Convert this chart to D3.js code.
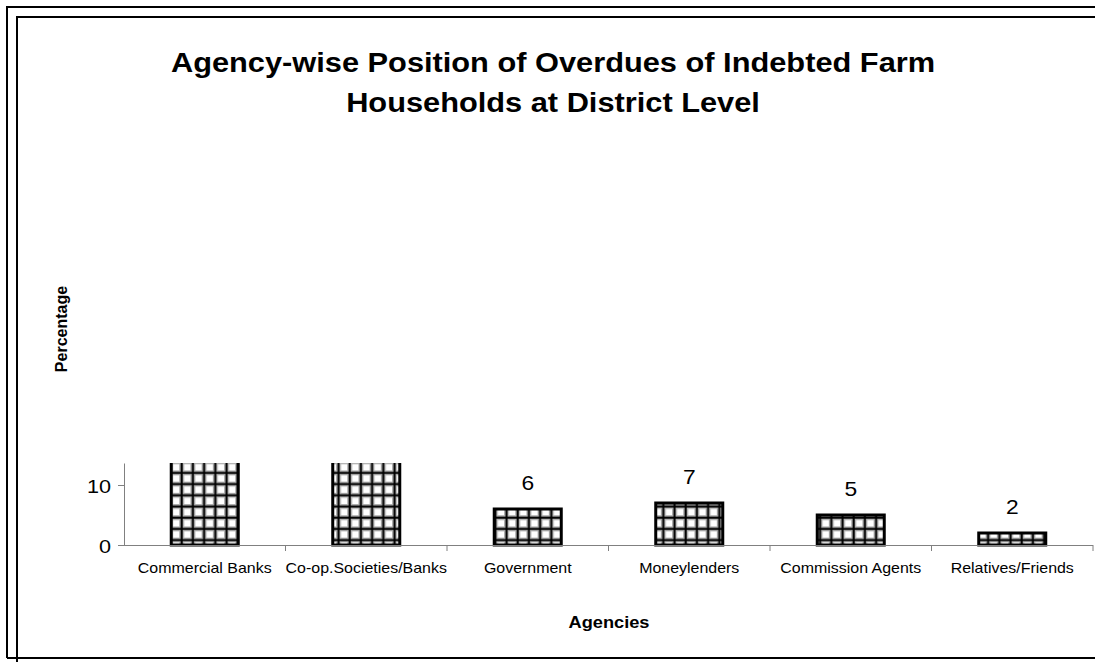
<!DOCTYPE html>
<html><head><meta charset="utf-8">
<script src="https://cdn.jsdelivr.net/npm/d3@7"></script>
<style>body{margin:0;background:#fff}svg{display:block}</style>
</head><body>
<svg id="c" width="1095" height="662"></svg>
<script>
const categories = ["Commercial Banks","Co-op.Societies/Banks","Government","Moneylenders","Commission Agents","Relatives/Friends"];
const values = [40, 38, 6, 7, 5, 2];
const yTicks = [0, 10];
const titleLines = ["Agency-wise Position of Overdues of Indebted Farm","Households at District Level"];

const svg = d3.select("#c");
const font = "Arial, 'Liberation Sans', sans-serif";
const SX = 1.14;
function stretch(sel){
  sel.each(function(){
    const t = d3.select(this);
    const x = +t.attr("x")||0, y = +t.attr("y")||0;
    t.attr("x",0).attr("y",0).attr("transform",`translate(${x},${y}) scale(${SX},1)`);
  });
}

// frames
svg.append("path").attr("d","M7,658 L7,7 L1095,7").attr("fill","none").attr("stroke","#000").attr("stroke-width",2);
svg.append("path").attr("d","M17,662 L17,17 L1095,17").attr("fill","none").attr("stroke","#000").attr("stroke-width",2);
svg.append("line").attr("x1",7).attr("x2",1095).attr("y1",658).attr("y2",658).attr("stroke","#000").attr("stroke-width",2);

// pattern
const defs = svg.append("defs");
const P = 11.2;
const pat = defs.append("pattern").attr("id","grid").attr("patternUnits","userSpaceOnUse")
  .attr("width",P).attr("height",P).attr("x",0).attr("y",0);
pat.append("rect").attr("width",P).attr("height",P).attr("fill","#fff");
pat.append("rect").attr("x",0).attr("y",0).attr("width",5).attr("height",P).attr("fill","#b0b0b0");
pat.append("rect").attr("x",0).attr("y",0).attr("width",P).attr("height",5).attr("fill","#b0b0b0");
pat.append("rect").attr("x",1.5).attr("y",0).attr("width",2).attr("height",P).attr("fill","#000");
pat.append("rect").attr("x",0).attr("y",1.5).attr("width",P).attr("height",2).attr("fill","#000");

const x0 = 124, x1 = 1093, yBase = 545, yTop = 463;
const x = d3.scaleBand().domain(categories).range([x0, x1]).paddingInner(0).paddingOuter(0);
const y = d3.scaleLinear().domain([0, (yBase - yTop)/6]).range([yBase, yTop]);

defs.append("clipPath").attr("id","plot").append("rect")
  .attr("x",x0).attr("y",yTop).attr("width",x1-x0).attr("height",yBase-yTop+3);

const bw = x.bandwidth()*0.415;
const g = svg.append("g").attr("clip-path","url(#plot)");
g.selectAll("rect.bar").data(values).enter().append("rect").attr("class","bar")
  .attr("x",(d,i)=>x(categories[i]) + (x.bandwidth()-bw)/2)
  .attr("y",d=>y(d)).attr("width",bw).attr("height",d=>yBase-y(d))
  .attr("fill","url(#grid)").attr("stroke","#000").attr("stroke-width",3);

// value labels (only those whose bars fit in the plot)
const vl = svg.selectAll("text.val").data(values.map((v,i)=>({v,i})).filter(d=>d.v <= y.domain()[1]))
  .enter().append("text").attr("class","val")
  .attr("x",d=>x(categories[d.i]) + x.bandwidth()/2)
  .attr("y",d=>y(d.v)-19)
  .attr("text-anchor","middle").attr("font-family",font).attr("font-size",20).text(d=>d.v);
stretch(vl);

// axes
const yAxis = d3.axisLeft(y).tickValues(yTicks).tickSize(6).tickSizeOuter(0);
const ya = svg.append("g").attr("transform",`translate(${x0},0)`).call(yAxis);
ya.select(".domain").attr("stroke","#808080");
ya.selectAll(".tick line").attr("stroke","#808080");
ya.selectAll(".tick text").attr("font-family",font).attr("font-size",19).attr("fill","#000").attr("x",-13).attr("y",1);
stretch(ya.selectAll(".tick text"));

const xAxis = d3.axisBottom(x).tickSize(0).tickSizeOuter(0);
const xa = svg.append("g").attr("transform",`translate(0,${yBase})`).call(xAxis);
xa.select(".domain").attr("stroke","#808080").attr("d",`M${x0-6},0.5H${x1}`);
xa.selectAll(".tick text").attr("font-family",font).attr("font-size",14).attr("fill","#000").attr("dy","0.71em").attr("y",18);
stretch(xa.selectAll(".tick text"));
// boundary ticks
const bounds = categories.map(c=>x(c)).concat([x1]).slice(1);
svg.append("g").selectAll("line").data(bounds).enter().append("line")
  .attr("x1",d=>d).attr("x2",d=>d).attr("y1",yBase).attr("y2",yBase+6).attr("stroke","#808080");

// titles
const tt = svg.selectAll("text.title").data(titleLines).enter().append("text").attr("class","title")
  .attr("x",553).attr("y",(d,i)=>72+i*40).attr("text-anchor","middle")
  .attr("font-family",font).attr("font-weight","bold").attr("font-size",27).text(d=>d);
stretch(tt);
const ag = svg.append("text").attr("x",609).attr("y",628).attr("text-anchor","middle").attr("font-family",font).attr("font-weight","bold").attr("font-size",16).text("Agencies");
stretch(ag);
svg.append("text").attr("transform","translate(67,329) rotate(-90)").attr("text-anchor","middle").attr("font-family",font).attr("font-weight","bold").attr("font-size",16).text("Percentage");
</script>
</body></html>
